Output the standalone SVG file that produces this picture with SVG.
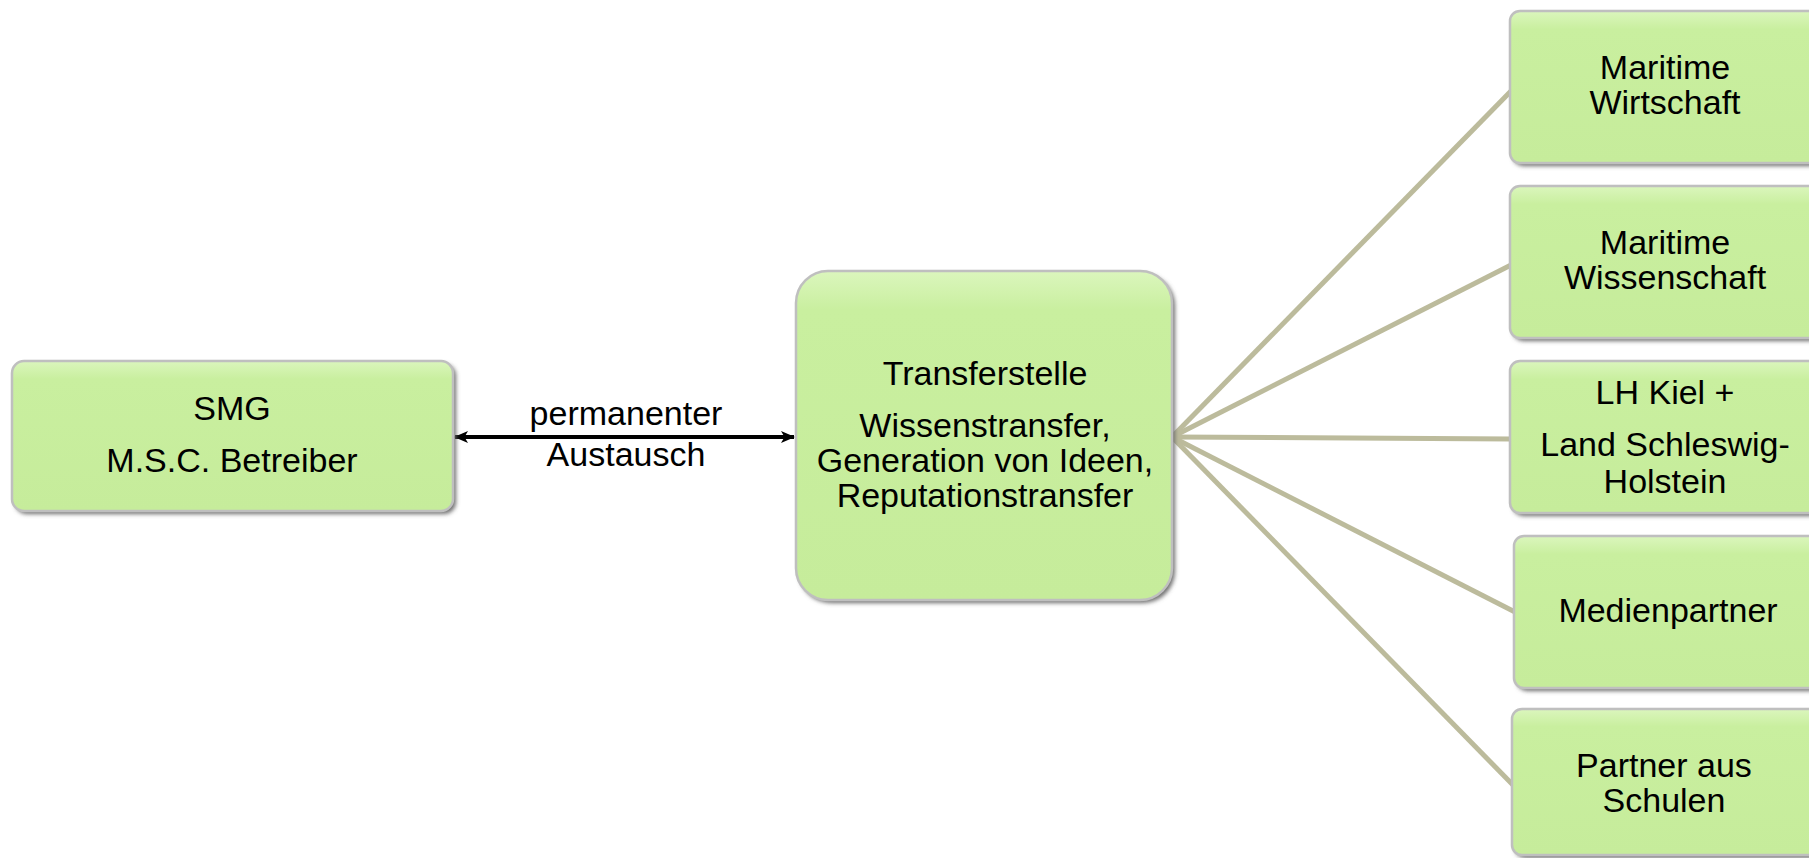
<svg xmlns="http://www.w3.org/2000/svg" width="1809" height="858" viewBox="0 0 1809 858">
  <style>
    .box { fill: url(#g); stroke: #bfbfbf; stroke-width: 2.5; }
    .sh { fill: #6e6e6e; filter: url(#blur); }
    .t { font-family: "Liberation Sans", Arial, sans-serif; font-size: 34px; fill: #000; text-anchor: middle; }
    .c { stroke: #bcbb9c; stroke-width: 5; fill: none; }
  </style>
  <defs>
    <linearGradient id="g" x1="0" y1="0" x2="0" y2="1">
      <stop offset="0" stop-color="#dbf6bd"/>
      <stop offset="0.12" stop-color="#c9ef9f"/>
      <stop offset="1" stop-color="#c6ec9b"/>
    </linearGradient>
    <filter id="blur" x="-5%" y="-5%" width="110%" height="110%">
      <feGaussianBlur stdDeviation="2"/>
    </filter>
    <marker id="ah" viewBox="0 0 14 12" refX="13" refY="6" markerWidth="14" markerHeight="12" markerUnits="userSpaceOnUse" orient="auto-start-reverse">
      <path d="M0,0 L14,6 L0,12 L3.5,6 Z" fill="#000"/>
    </marker>
  </defs>

  <g id="connectors">
    <line class="c" x1="1172" y1="437" x2="1511" y2="91"/>
    <line class="c" x1="1172" y1="437" x2="1511" y2="265"/>
    <line class="c" x1="1172" y1="437" x2="1511" y2="439"/>
    <line class="c" x1="1172" y1="437" x2="1515" y2="612"/>
    <line class="c" x1="1172" y1="437" x2="1513" y2="785"/>
    <line x1="455" y1="437" x2="794" y2="437" stroke="#000" stroke-width="4" marker-start="url(#ah)" marker-end="url(#ah)"/>
    <text class="t" x="626" y="425">permanenter</text>
    <text class="t" x="626" y="466">Austausch</text>
  </g>

  <g id="smg">
    <rect class="sh" x="15" y="364" width="441" height="150" rx="12"/>
    <rect class="box" x="12" y="361" width="441" height="150" rx="12"/>
    <text class="t" x="232" y="420">SMG</text>
    <text class="t" x="232" y="472">M.S.C. Betreiber</text>
  </g>

  <g id="transferstelle">
    <rect class="sh" x="799" y="274" width="376" height="329" rx="32"/>
    <rect class="box" x="796" y="271" width="376" height="329" rx="32"/>
    <text class="t" x="985" y="385">Transferstelle</text>
    <text class="t" x="985" y="437">Wissenstransfer,</text>
    <text class="t" x="985" y="472">Generation von Ideen,</text>
    <text class="t" x="985" y="507">Reputationstransfer</text>
  </g>

  <g id="wirtschaft">
    <rect class="sh" x="1513" y="14" width="312" height="152" rx="10"/>
    <rect class="box" x="1510" y="11" width="312" height="152" rx="10"/>
    <text class="t" x="1665" y="79">Maritime</text>
    <text class="t" x="1665" y="114">Wirtschaft</text>
  </g>

  <g id="wissenschaft">
    <rect class="sh" x="1513" y="189" width="312" height="152" rx="10"/>
    <rect class="box" x="1510" y="186" width="312" height="152" rx="10"/>
    <text class="t" x="1665" y="254">Maritime</text>
    <text class="t" x="1665" y="289">Wissenschaft</text>
  </g>

  <g id="land">
    <rect class="sh" x="1513" y="364" width="312" height="152" rx="10"/>
    <rect class="box" x="1510" y="361" width="312" height="152" rx="10"/>
    <text class="t" x="1665" y="404">LH Kiel +</text>
    <text class="t" x="1665" y="456">Land Schleswig-</text>
    <text class="t" x="1665" y="493">Holstein</text>
  </g>

  <g id="medien">
    <rect class="sh" x="1517" y="539" width="312" height="152" rx="10"/>
    <rect class="box" x="1514" y="536" width="312" height="152" rx="10"/>
    <text class="t" x="1668" y="622">Medienpartner</text>
  </g>

  <g id="schulen">
    <rect class="sh" x="1515" y="712" width="312" height="146" rx="10"/>
    <rect class="box" x="1512" y="709" width="312" height="146" rx="10"/>
    <text class="t" x="1664" y="777">Partner aus</text>
    <text class="t" x="1664" y="812">Schulen</text>
  </g>
</svg>
